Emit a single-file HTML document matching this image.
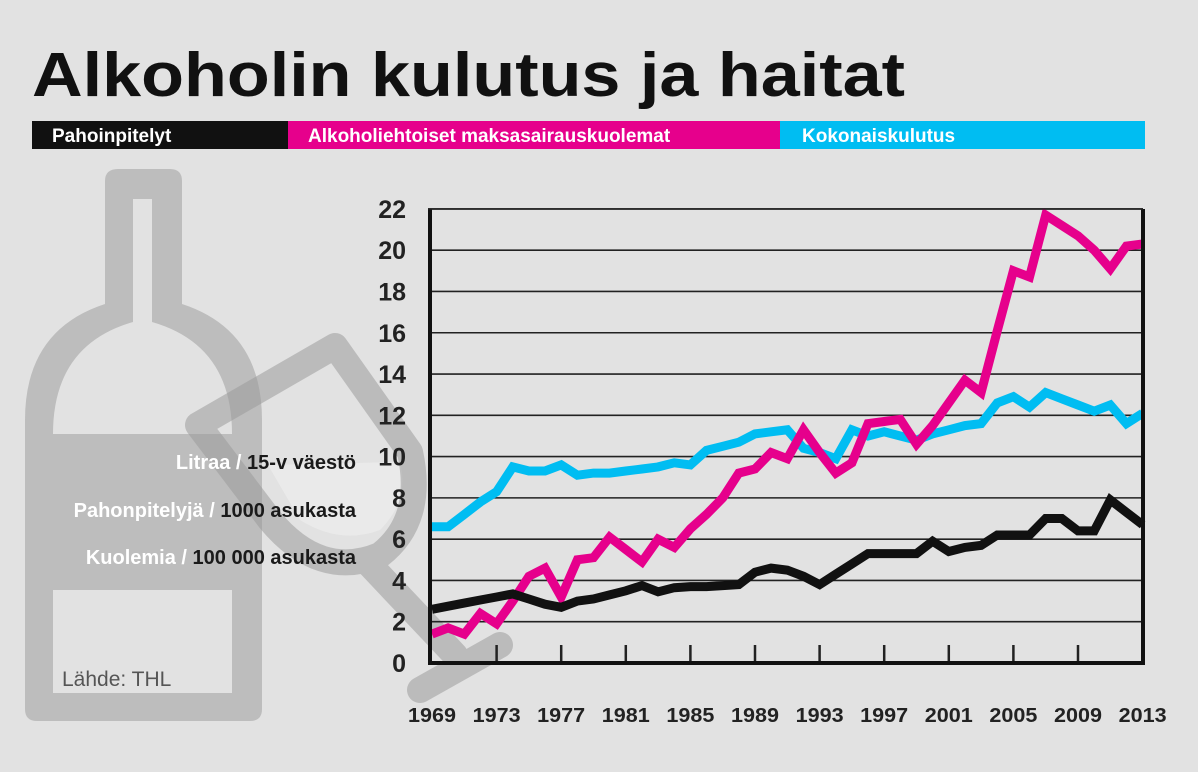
<!DOCTYPE html>
<html><head><meta charset="utf-8"><style>
html,body{margin:0;padding:0;background:#e2e2e2;}
svg{display:block;font-family:"Liberation Sans",sans-serif;}
</style></head><body>
<svg width="1198" height="772" viewBox="0 0 1198 772">
<rect x="0" y="0" width="1198" height="772" fill="#e2e2e2"/>
<text x="32" y="96" font-size="62" font-weight="bold" fill="#111" textLength="873" lengthAdjust="spacingAndGlyphs">Alkoholin kulutus ja haitat</text>
<g>
<rect x="32" y="121" width="256" height="28" fill="#111"/>
<rect x="288" y="121" width="492" height="28" fill="#e6008c"/>
<rect x="780" y="121" width="365" height="28" fill="#00bdf2"/>
<text x="52" y="142" font-size="19" font-weight="bold" fill="#fff">Pahoinpitelyt</text>
<text x="308" y="142" font-size="19" font-weight="bold" fill="#fff">Alkoholiehtoiset maksasairauskuolemat</text>
<text x="802" y="142" font-size="19" font-weight="bold" fill="#fff">Kokonaiskulutus</text>
</g>
<g>
<path d="M118,169 H170 Q182,169 182,181 V304 Q262,330 262,420 V709 Q262,721 250,721 H37 Q25,721 25,709 V420 Q25,330 105,304 V181 Q105,169 118,169 Z" fill="#bdbdbd"/>
<path d="M133,199 H152 V322 Q232,345 232,434 H53 Q53,345 133,322 Z" fill="#e2e2e2"/>
<rect x="53" y="590" width="179" height="103" fill="#e2e2e2"/>
<path d="M268,465 L400,462 Q410,500 380,530 Q340,545 300,520 Z" fill="#ececec" opacity="0.8"/>
<path d="M198,425 L335,346 L410,452 Q425,520 380,555 Q320,580 270,520 Z M370,565 L455,655 M420,690 L500,645" fill="none" stroke="#9a9a9a" stroke-opacity="0.55" stroke-width="26" stroke-linejoin="round" stroke-linecap="round"/>
<text x="62" y="686" font-size="21" fill="#555">Lähde: THL</text>
</g>
<g font-size="20" font-weight="bold" text-anchor="end">
<text x="356" y="469"><tspan fill="#fff">Litraa</tspan><tspan fill="#fff"> / </tspan><tspan fill="#1a1a1a">15-v väestö</tspan></text>
<text x="356" y="517"><tspan fill="#fff">Pahonpitelyjä</tspan><tspan fill="#fff"> / </tspan><tspan fill="#1a1a1a">1000 asukasta</tspan></text>
<text x="356" y="564"><tspan fill="#fff">Kuolemia</tspan><tspan fill="#fff"> / </tspan><tspan fill="#1a1a1a">100 000 asukasta</tspan></text>
</g>
<g id="plot"></g>
</svg>
<script>
const years = [];
for (let y = 1969; y <= 2013; y++) years.push(y);
const yTicks = [0,2,4,6,8,10,12,14,16,18,20,22];
const xTickLabels = [1969,1973,1977,1981,1985,1989,1993,1997,2001,2005,2009,2013];
const pahoinpitelyt = [2.6,2.75,2.9,3.05,3.2,3.35,3.1,2.85,2.7,3.0,3.1,3.3,3.5,3.75,3.45,3.65,3.7,3.7,3.75,3.8,4.4,4.6,4.5,4.2,3.8,4.3,4.8,5.3,5.3,5.3,5.3,5.9,5.4,5.6,5.7,6.2,6.2,6.2,7.0,7.0,6.4,6.4,7.9,7.3,6.7];
const maksa = [1.4,1.7,1.4,2.4,1.9,3.0,4.2,4.6,3.2,5.0,5.1,6.1,5.5,4.9,6.0,5.6,6.5,7.2,8.0,9.2,9.4,10.2,9.9,11.3,10.2,9.2,9.7,11.6,11.7,11.8,10.6,11.5,12.6,13.7,13.1,16.1,19.0,18.7,21.7,21.2,20.7,20.0,19.1,20.2,20.3];
const kulutus = [6.6,6.6,7.2,7.8,8.3,9.5,9.3,9.3,9.6,9.1,9.2,9.2,9.3,9.4,9.5,9.7,9.6,10.3,10.5,10.7,11.1,11.2,11.3,10.4,10.2,9.9,11.3,11.0,11.2,11.0,10.8,11.1,11.3,11.5,11.6,12.6,12.9,12.4,13.1,12.8,12.5,12.2,12.5,11.6,12.1];

const NS = 'http://www.w3.org/2000/svg';
const plot = document.getElementById('plot');
const xS = yr => 432 + 16.15 * (yr - 1969);
const yS = v => 663 - 20.64 * v;
function mk(tag, attrs, parent) {
  const e = document.createElementNS(NS, tag);
  for (const k in attrs) e.setAttribute(k, attrs[k]);
  (parent || plot).appendChild(e);
  return e;
}
// gridlines and y labels
yTicks.forEach(v => {
  if (v > 0) {
    const g = mk('line', {x1: 428, x2: 1143, y1: yS(v), y2: yS(v), stroke: '#222', 'stroke-width': 1.6});
    
    
  }
  const t = mk('text', {x: 406, y: yS(v) + 9, 'font-size': 25, 'font-weight': 'bold', fill: '#222', 'text-anchor': 'end'});
  
  
  t.textContent = v;
});
// x ticks & labels
xTickLabels.forEach((yr, i) => {
  if (i > 0 && i < xTickLabels.length - 1) {
    const tk = mk('line', {x1: xS(yr), x2: xS(yr), y1: 645, y2: 663, stroke: '#222', 'stroke-width': 2.5});
    
    
  }
  const t = mk('text', {x: xS(yr), y: 722, 'font-size': 20, 'font-weight': 'bold', fill: '#222', 'text-anchor': 'middle', textLength: 48, lengthAdjust: 'spacingAndGlyphs'});
  
  
  t.textContent = yr;
});
// series
function series(vals, color, name) {
  const d = vals.map((v, i) => (i ? 'L' : 'M') + xS(years[i]).toFixed(1) + ',' + yS(v).toFixed(1)).join(' ');
  const p = mk('path', {d: d, fill: 'none', stroke: color, 'stroke-width': 9, 'stroke-linejoin': 'miter', 'stroke-miterlimit': 3});
  
  
}
series(kulutus, '#00bdf2', 'line-kokonaiskulutus');
series(maksa, '#e6008c', 'line-maksasairauskuolemat');
series(pahoinpitelyt, '#111', 'line-pahoinpitelyt');
// axes
const ax = mk('path', {d: 'M430,209 V663 H1143 V209', fill: 'none', stroke: '#111', 'stroke-width': 4});


const topLine = mk('line', {x1: 428, x2: 1143, y1: 209, y2: 209, stroke: '#222', 'stroke-width': 1.6});


</script>
</body></html>
